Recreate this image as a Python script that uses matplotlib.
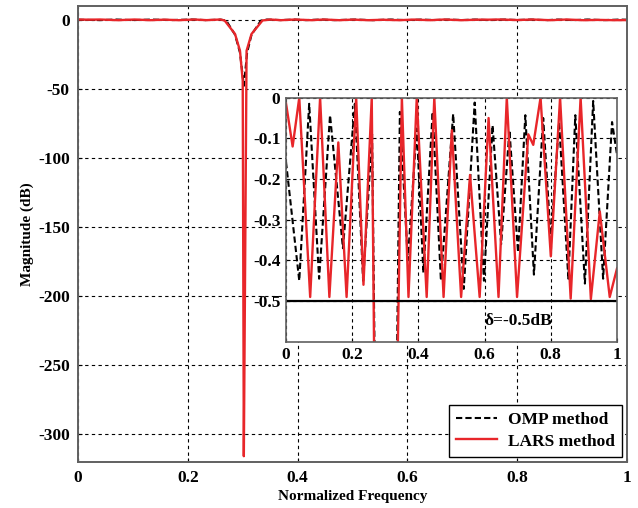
import numpy as np
import matplotlib.pyplot as plt

plt.rcParams['font.family'] = ['Liberation Serif', 'DejaVu Serif']
plt.rcParams['font.weight'] = 'bold'
plt.rcParams['font.size'] = 11
plt.rcParams['axes.unicode_minus'] = False

# LARS response (normalized frequency, dB) incl. the notch
lars_freq = [0.000, 0.020, 0.040, 0.073, 0.103, 0.131, 0.158, 0.183, 0.212, 0.234,
             0.259, 0.267, 0.286, 0.295, 0.300, 0.302, 0.305, 0.307, 0.316, 0.336,
             0.350, 0.370, 0.395, 0.425, 0.448, 0.476, 0.501, 0.529, 0.556, 0.585,
             0.612, 0.642, 0.667, 0.698, 0.732, 0.747, 0.769, 0.800, 0.828, 0.860,
             0.890, 0.921, 0.948, 0.978, 1.000]
lars_db = [-0.014, -0.120, 0.000, -0.490, 0.000, -0.490, -0.110, -0.490, 0.000, -0.460,
           0.000, -0.7, -10.5, -22.6, -44.3, -316.0, -141.0, -22.6, -10.5, -0.7,
           0.000, -0.490, 0.000, -0.490, 0.000, -0.490, -0.080, -0.490, -0.190, -0.490,
           -0.050, -0.490, 0.000, -0.490, -0.090, -0.116, 0.000, -0.390, 0.000, -0.494,
           0.000, -0.495, -0.280, -0.490, -0.420]

# OMP response
omp_freq = [0.000, 0.040, 0.070, 0.100, 0.133, 0.172, 0.208, 0.233, 0.260, 0.270,
            0.286, 0.295, 0.302, 0.308, 0.316, 0.333, 0.344, 0.368, 0.395, 0.415,
            0.443, 0.468, 0.505, 0.537, 0.570, 0.598, 0.624, 0.650, 0.675, 0.701,
            0.723, 0.749, 0.777, 0.800, 0.825, 0.853, 0.874, 0.903, 0.928, 0.958,
            0.985, 1.000]
omp_db = [-0.158, -0.450, -0.015, -0.445, -0.043, -0.370, -0.015, -0.450, -0.090, -0.8,
          -11.0, -24.0, -48.0, -24.0, -11.0, -0.8, -0.035, -0.400, -0.076, -0.430,
          -0.035, -0.450, -0.040, -0.470, -0.012, -0.450, -0.068, -0.360, -0.080, -0.380,
          -0.043, -0.435, -0.050, -0.350, -0.060, -0.445, -0.043, -0.457, -0.008, -0.445,
          -0.060, -0.140]

main_xticks = [0, 0.2, 0.4, 0.6, 0.8, 1]
main_xlabels = ['0', '0.2', '0.4', '0.6', '0.8', '1']
main_yticks = [0, -50, -100, -150, -200, -250, -300]
inset_yticks = [0, -0.1, -0.2, -0.3, -0.4, -0.5]
inset_ylabels = ['0', '-0.1', '-0.2', '-0.3', '-0.4', '-0.5']
delta = -0.5

grid_ls = (0, (3, 3))
omp_ls = (0, (3, 1.5))
red = '#e8262a'

fig = plt.figure(figsize=(6.38, 5.08), dpi=100)
ax = fig.add_axes([0.1223, 0.0911, 0.8605, 0.8977])

ax.plot(omp_freq, omp_db, color='black', lw=1.5, ls=omp_ls, label='OMP method')
ax.plot(lars_freq, lars_db, color=red, lw=1.7, label='LARS method',
        solid_joinstyle='round')
ax.set_xlim(0, 1)
ax.set_ylim(-320, 10)
ax.set_xticks(main_xticks)
ax.set_xticklabels(main_xlabels)
ax.set_yticks(main_yticks)
ax.grid(True, color='black', ls=grid_ls, lw=0.8)
ax.tick_params(direction='in', length=3, pad=6, labelsize=12.5)
ax.set_xlabel('Normalized Frequency', fontweight='bold', labelpad=3)
ax.set_ylabel('Magnitude (dB)', fontweight='bold', labelpad=3)
for s in ax.spines.values():
    s.set_color('#606060')
    s.set_linewidth(1.4)

leg = ax.legend(loc='lower right', handlelength=2.4, borderaxespad=0.3,
                fancybox=False, framealpha=1, edgecolor='black',
                labelspacing=0.3, handletextpad=0.6,
                prop={'weight': 'bold', 'size': 12.5})
leg.get_frame().set_linewidth(1.0)

# inset zoom on passband
ins = fig.add_axes([0.4483, 0.3273, 0.5188, 0.4804])
ins.plot(omp_freq, omp_db, color='black', lw=1.5, ls=omp_ls)
ins.plot(lars_freq, lars_db, color=red, lw=1.7, solid_joinstyle='round')
ins.axhline(delta, color='black', lw=1.6)
ins.set_xlim(0, 1)
ins.set_ylim(-0.6, 0)
ins.set_xticks(main_xticks)
ins.set_xticklabels(main_xlabels)
ins.set_yticks(inset_yticks)
ins.set_yticklabels(inset_ylabels)
ins.grid(True, color='black', ls=grid_ls, lw=0.8)
ins.tick_params(direction='in', length=3, pad=4, labelsize=12.5)
ins.text(0.6, -0.548, 'δ=-0.5dB', fontweight='bold', fontsize=12.5, va='center')
for s in ins.spines.values():
    s.set_color('#606060')
    s.set_linewidth(1.2)

fig.savefig('out.png', dpi=100)
